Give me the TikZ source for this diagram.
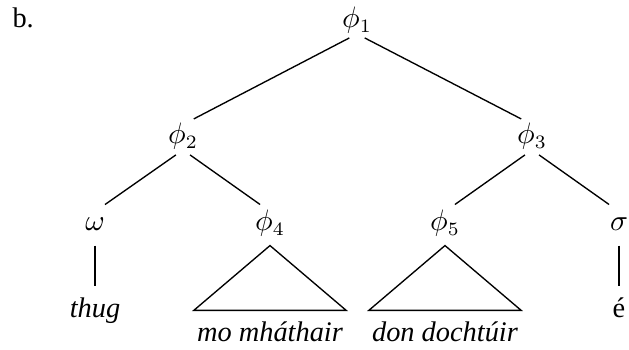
\documentclass[tikz,border=0pt]{standalone}
\usepackage{fontspec}
\usepackage{amsmath}
\setmainfont{Liberation Serif}
\usetikzlibrary{positioning}

\begin{document}
\begin{tikzpicture}[x=0.37pt, y=-0.37pt, font=\fontsize{10.5}{12}\selectfont,
		catnode/.style={anchor=base, inner sep=0pt, text height=7pt, text depth=2pt},
		leafnode/.style={catnode, font=\fontsize{10.5}{12}\selectfont\itshape},
		roofnode/.style={anchor=base, inner xsep=1pt, inner ysep=4.5pt, text height=7pt, text depth=2pt, font=\fontsize{10.5}{12}\selectfont\itshape},
		treeLine/.style={line width=0.5pt, shorten <=3.2pt, shorten >=4.5pt}
		]
		\useasboundingbox (0,0) rectangle (629,350);
		
		\node [anchor=base west, inner sep=0pt] (lbl) at (12,28) {b.};
		
		% phrase nodes
		\node [catnode] (p1) at (357,28) {$\phi_1$};
		\node [catnode] (p2) at (183,144) {$\phi_2$};
		\node [catnode] (p3) at (532,144) {$\phi_3$};
		\node [catnode] (w) at (95,231) {$\omega$};
		\node [catnode] (p4) at (270,231) {$\phi_4$};
		\node [catnode] (p5) at (445,231) {$\phi_5$};
		\node [catnode] (s) at (619,231) {$\sigma$};
		
		% words
		\node [leafnode] (thug) at (95,318) {thug};
		\node [catnode] (e) at (619,318) {é};
		\node [roofnode] (mm) at (270,342) {mo mháthair};
		\node [roofnode] (dd) at (445,342) {don dochtúir};
		
		\draw [treeLine] (p1.south) -- (p2.north);
		\draw [treeLine] (p1.south) -- (p3.north);
		\draw [treeLine] (p2.south) -- (w.north);
		\draw [treeLine] (p2.south) -- (p4.north);
		\draw [treeLine] (p3.south) -- (p5.north);
		\draw [treeLine] (p3.south) -- (s.north);
		\draw [treeLine] (w.south) -- (thug.north);
		\draw [treeLine] (s.south) -- (e.north);
		
		\draw [line width=0.5pt] ([yshift=-3.2pt]p4.south) -- (mm.north west) -- (mm.north east) -- cycle;
		\draw [line width=0.5pt] ([yshift=-3.2pt]p5.south) -- (dd.north west) -- (dd.north east) -- cycle;
		
\end{tikzpicture}
\end{document}
